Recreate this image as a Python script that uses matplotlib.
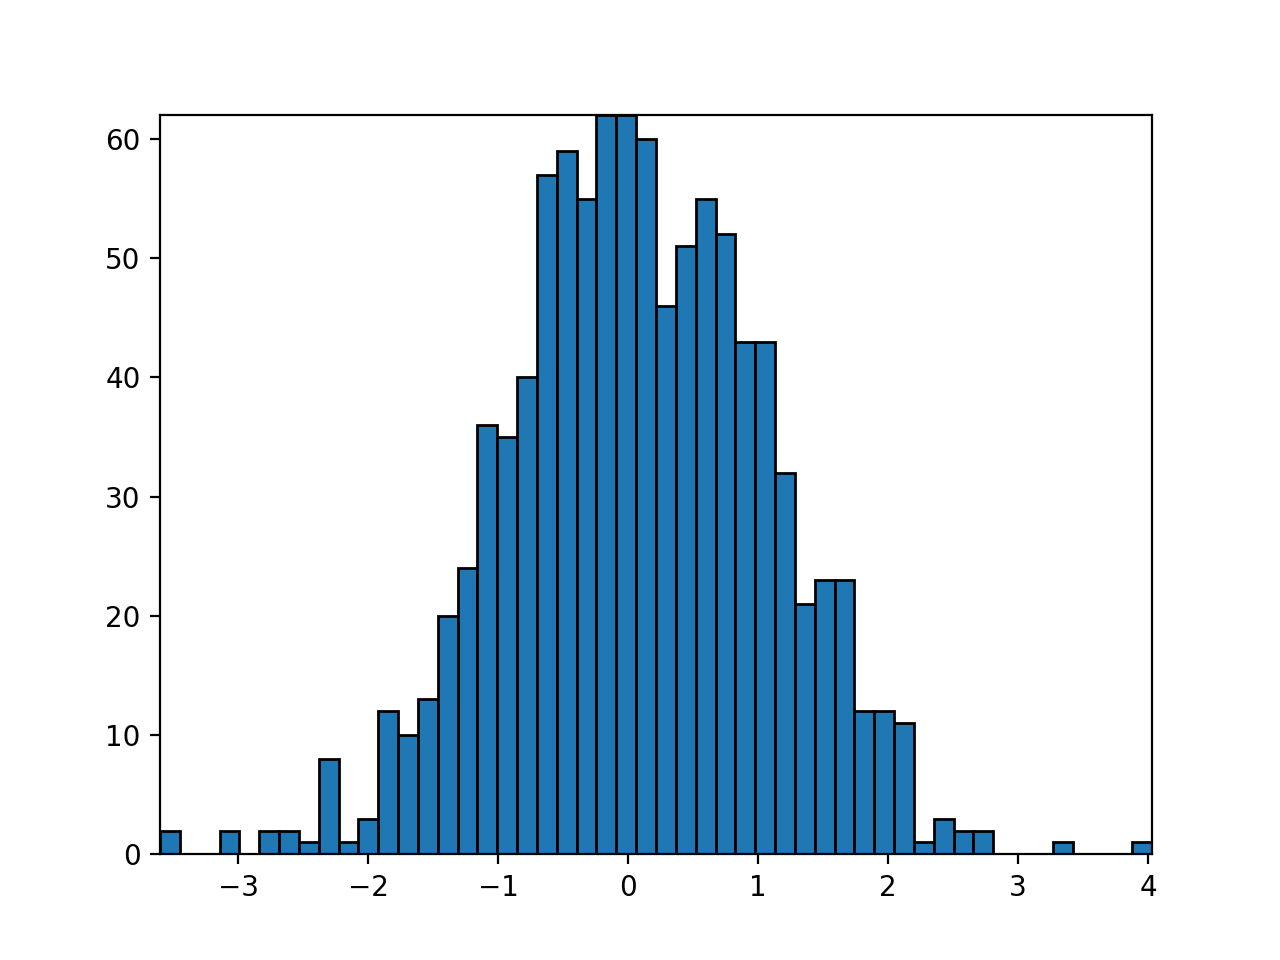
import numpy as np
import matplotlib
matplotlib.use('Agg')
import matplotlib.pyplot as plt

# contagens (50 classes)
counts = [2, 0, 0, 2, 0, 2, 2, 1, 8, 1,
          3, 12, 10, 13, 20, 24, 36, 35, 40, 57,
          59, 55, 62, 62, 60, 46, 51, 55, 52, 43,
          43, 32, 21, 23, 23, 12, 12, 11, 1, 3,
          2, 2, 0, 0, 0, 1, 0, 0, 0, 1]
x_min = -3.60
x_max = 4.03

edges = np.linspace(x_min, x_max, len(counts) + 1)
centers = (edges[:-1] + edges[1:]) / 2

fig, ax = plt.subplots(figsize=(6.4, 4.8), dpi=200)
ax.hist(centers, bins=edges, weights=counts, color='#1f77b4', edgecolor='black')
ax.set_xlim(x_min, x_max)
ax.set_ylim(0, max(counts))

fig.savefig('out.png')
